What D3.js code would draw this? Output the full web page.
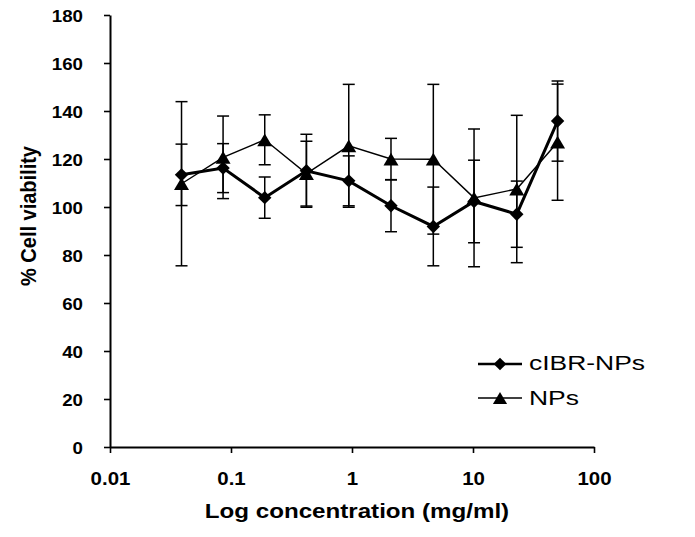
<!DOCTYPE html>
<html><head><meta charset="utf-8">
<script src="https://cdn.jsdelivr.net/npm/d3@7"></script>
<style>body{margin:0;background:#fff;} svg{display:block;font-family:"Liberation Sans",Arial,sans-serif;}</style>
</head><body>
<svg id="c" width="695" height="537"></svg>
<script>
const concentrations = [0.039, 0.086, 0.19, 0.42, 0.94, 2.1, 4.7, 10.2, 23, 50];
const cibrMean = [113.4, 116.2, 103.9, 115.1, 110.9, 100.5, 91.9, 102.3, 97.0, 135.8];
const cibrErr  = [12.8, 10.2, 8.6, 15.2, 10.4, 10.8, 16.4, 17.2, 13.8, 16.7];
const npsMean  = [109.7, 120.7, 128.0, 113.9, 125.5, 120.0, 119.9, 103.8, 107.5, 127.0];
const npsErr   = [34.2, 17.2, 10.4, 13.5, 25.6, 8.6, 31.2, 28.7, 30.7, 24.2];
const xTicks = [0.01, 0.1, 1, 10, 100];
const yTicks = [0, 20, 40, 60, 80, 100, 120, 140, 160, 180];
const seriesNames = ["cIBR-NPs", "NPs"];

const svg = d3.select("#c");
const x = d3.scaleLog().domain([0.01, 100]).range([110, 594]);
const y = d3.scaleLinear().domain([0, 180]).range([447, 15]);

// custom marker shapes
const diamondSym = { draw(ctx, s) { const r = Math.sqrt(s) / 2; ctx.moveTo(0, -r); ctx.lineTo(r, 0); ctx.lineTo(0, r); ctx.lineTo(-r, 0); ctx.closePath(); } };
const triSym = { draw(ctx, s) { const w = Math.sqrt(s) / 2, h = w * 0.85; ctx.moveTo(0, -h); ctx.lineTo(w, h); ctx.lineTo(-w, h); ctx.closePath(); } };

// axes
const xAxis = svg.append("g").attr("transform", `translate(0,${y(0)})`)
  .call(d3.axisBottom(x).tickValues(xTicks).tickFormat(d => String(d)).tickSize(6).tickSizeOuter(0));
const yAxis = svg.append("g").attr("transform", `translate(${x(0.01)},0)`)
  .call(d3.axisLeft(y).tickValues(yTicks).tickSize(6).tickSizeOuter(0));
[xAxis, yAxis].forEach(g => {
  g.select(".domain").attr("stroke", "#000").attr("stroke-width", 2);
  g.selectAll(".tick line").attr("stroke", "#000").attr("stroke-width", 1.6);
  g.selectAll(".tick text").attr("fill", "#000").attr("font-weight", "bold")
   .attr("font-family", "'Liberation Sans',Arial,sans-serif");
});
xAxis.selectAll(".tick text").attr("font-size", 17.5).attr("dy", null).attr("y", 38)
  .attr("transform", "scale(1.17,1)");
const ys = 1.1;
yAxis.selectAll(".tick text").attr("font-size", 17).attr("x", -27 / ys).attr("dy", "0.36em")
  .attr("transform", `scale(${ys},1)`);

svg.append("text").attr("transform", "translate(357,518) scale(1.15,1)").attr("text-anchor", "middle")
  .attr("font-size", 21).attr("font-weight", "bold").text("Log concentration (mg/ml)");
svg.append("text").attr("transform", `translate(36,216) rotate(-90) scale(1,1.12)`).attr("text-anchor", "middle")
  .attr("font-size", 20).attr("font-weight", "bold").text("% Cell viability");

function drawSeries(means, errs, lw, symbol, size) {
  const pts = concentrations.map((c, i) => ({c, m: means[i], e: errs[i]}));
  const g = svg.append("g");
  const cap = 6;
  pts.forEach(p => {
    const px = x(p.c);
    g.append("line").attr("x1", px).attr("x2", px).attr("y1", y(p.m + p.e)).attr("y2", y(p.m - p.e))
      .attr("stroke", "#000").attr("stroke-width", 1.5);
    [p.m + p.e, p.m - p.e].forEach(v => g.append("line").attr("x1", px - cap).attr("x2", px + cap)
      .attr("y1", y(v)).attr("y2", y(v)).attr("stroke", "#000").attr("stroke-width", 1.5));
  });
  g.append("path").datum(pts).attr("fill", "none").attr("stroke", "#000").attr("stroke-width", lw)
    .attr("d", d3.line().x(p => x(p.c)).y(p => y(p.m)));
  g.selectAll(".m").data(pts).join("path")
    .attr("transform", p => `translate(${x(p.c)},${y(p.m)})`)
    .attr("d", d3.symbol().type(symbol).size(size)).attr("fill", "#000");
}
drawSeries(npsMean, npsErr, 1.4, triSym, 225);
drawSeries(cibrMean, cibrErr, 3, diamondSym, 180);

// legend
const lg = svg.append("g");
const legendRows = [
  {name: seriesNames[0], sym: diamondSym, size: 160, lw: 2.5, yy: 364, ty: 370},
  {name: seriesNames[1], sym: triSym, size: 200, lw: 1.4, yy: 398, ty: 405}
];
legendRows.forEach(r => {
  lg.append("line").attr("x1", 478).attr("x2", 522).attr("y1", r.yy).attr("y2", r.yy)
    .attr("stroke", "#000").attr("stroke-width", r.lw);
  lg.append("path").attr("transform", `translate(500,${r.yy})`).attr("d", d3.symbol().type(r.sym).size(r.size)).attr("fill", "#000");
  lg.append("text").attr("transform", `translate(529,${r.ty}) scale(1.26,1)`).attr("font-size", 21).text(r.name);
});
</script>
</body></html>
